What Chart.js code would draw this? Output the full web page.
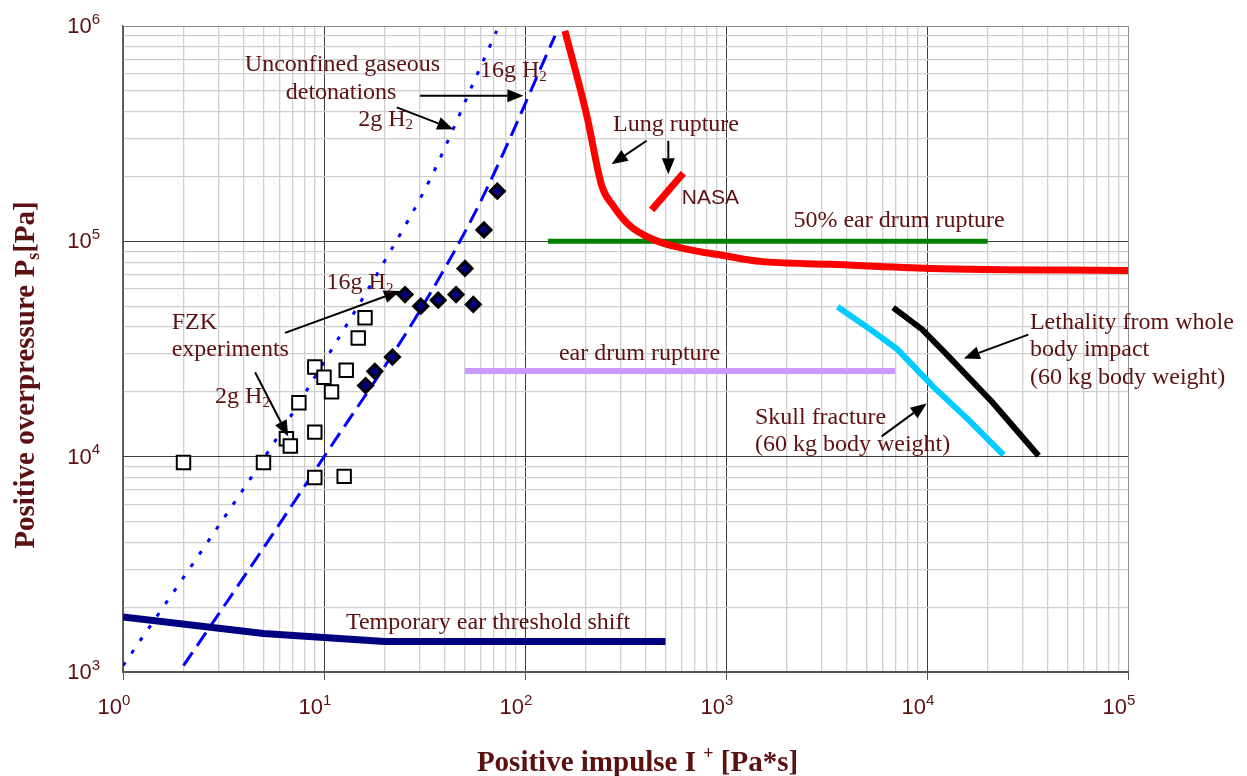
<!DOCTYPE html>
<html>
<head>
<meta charset="utf-8">
<title>Blast injury criteria</title>
<script src="https://cdn.jsdelivr.net/npm/chart.js@4.4.0/dist/chart.umd.min.js"></script>
<style>
    html, body { margin: 0; padding: 0; background: #fff; overflow: hidden; }
    canvas { display: block; }
</style>
</head>
<body>
<canvas id="chart" width="1247" height="776"></canvas>
<script>
// Valori: x = impuls pozitiv [Pa*s], y = suprapresiune [Pa]
// Etichete axe: [bază, exponent]
const xTickLabels = [['10', '0'], ['10', '1'], ['10', '2'], ['10', '3'], ['10', '4'], ['10', '5']];
const yTickLabels = [['10', '3'], ['10', '4'], ['10', '5'], ['10', '6']];

// FZK 2g H2 (pătrate goale)
const fzk2gX = [2.0, 5.0, 6.5, 6.8, 7.5, 9.0, 9.0, 9.0, 10.0, 10.9, 12.6, 12.9, 14.8, 16.0];
const fzk2gY = [9400, 9400, 12100, 11200, 17800, 13000, 8000, 26100, 23400, 20000, 8100, 25200, 35600, 44200];

// FZK 16g H2 (romburi)
const fzk16gX = [72.8, 62.5, 50.3, 25.3, 30.3, 37.0, 45.4, 55.3, 21.9, 17.9, 16.1];
const fzk16gY = [171000, 113000, 74800, 56600, 50000, 53300, 56600, 50900, 29000, 24900, 21400];

// detonații gazoase neconfinate
const det2gX = [1.0, 2.62, 5.5, 10, 20.5, 33.7, 56.4, 72.3];
const det2gY = [1070, 3980, 11200, 27500, 84000, 194000, 566000, 950000];
const det16gX = [2.0, 5.2, 10.3, 28.9, 59.7, 141];
const det16gY = [1070, 3980, 10400, 45000, 151000, 900000];

// criterii de vătămare
const lungX = [158, 203, 241, 275, 333, 435, 590, 1000, 1480, 3300, 10400, 100000];
const lungY = [950000, 383000, 181000, 146000, 118000, 102000, 93500, 85500, 80700, 78200, 74800, 73200];
const nasaX = [427, 613];
const nasaY = [140000, 207000];
const ear50X = [130, 20000];
const ear50Y = [100000, 100000];
const earX = [50.3, 6930];
const earY = [25000, 25000];
const skullX = [3590, 5370, 7130, 10700, 16000, 24000];
const skullY = [49700, 38300, 31500, 21200, 14900, 10200];
const lethalX = [6790, 9460, 12560, 14770, 21250, 35900];
const lethalY = [49200, 39000, 29800, 25400, 17800, 10100];
const tempShiftX = [1, 5, 20, 500];
const tempShiftY = [1800, 1510, 1385, 1385];

// Stiluri
const TEXT = '#5c1010';
const serif = '"Liberation Serif", "Times New Roman", serif';
const sans = '"Liberation Sans", Arial, sans-serif';

// Etichete (poziții în decade: lx = log10(x), ly = log10(y))
const notes = [
    { parts: [['Unconfined gaseous']], lx: 1.092, ly: 5.819, align: 'center' },
    { parts: [['detonations']], lx: 1.085, ly: 5.692, align: 'center' },
    { parts: [['2g H'], ['2', 'sub']], lx: 1.170, ly: 5.567, align: 'left' },
    { parts: [['16g H'], ['2', 'sub']], lx: 1.776, ly: 5.792, align: 'left' },
    { parts: [['Lung rupture']], lx: 2.438, ly: 5.540, align: 'left' },
    { parts: [['NASA']], lx: 2.780, ly: 5.199, align: 'left', font: sans, size: 21 },
    { parts: [['50% ear drum rupture']], lx: 3.861, ly: 5.098, align: 'center' },
    { parts: [['ear drum rupture']], lx: 2.570, ly: 4.479, align: 'center' },
    { parts: [['Temporary ear threshold shift']], lx: 1.109, ly: 3.229, align: 'left' },
    { parts: [['16g H'], ['2', 'sub']], lx: 1.013, ly: 4.808, align: 'left' },
    { parts: [['FZK']], lx: 0.242, ly: 4.622, align: 'left' },
    { parts: [['experiments']], lx: 0.242, ly: 4.498, align: 'left' },
    { parts: [['2g H'], ['2', 'sub']], lx: 0.458, ly: 4.280, align: 'left' },
    { parts: [['Skull fracture']], lx: 3.144, ly: 4.181, align: 'left' },
    { parts: [['(60 kg body weight)']], lx: 3.144, ly: 4.056, align: 'left' },
    { parts: [['Lethality from whole']], lx: 4.512, ly: 4.622, align: 'left' },
    { parts: [['body impact']], lx: 4.512, ly: 4.498, align: 'left' },
    { parts: [['(60 kg body weight)']], lx: 4.512, ly: 4.367, align: 'left' }
];

// Săgeți: [lx coadă, ly coadă, lx vârf, ly vârf]
const arrows = [
    [1.478, 5.676, 1.992, 5.676],
    [1.362, 5.622, 1.643, 5.521],
    [2.605, 5.467, 2.431, 5.358],
    [2.713, 5.467, 2.713, 5.312],
    [0.806, 4.575, 1.378, 4.769],
    [0.657, 4.392, 0.822, 4.094],
    [3.774, 4.094, 3.998, 4.247],
    [4.504, 4.567, 4.183, 4.456]
];

const xTitle = [['Positive impulse I '], ['+', 'sup'], [' [Pa*s]']];
const yTitle = [['Positive overpressure P'], ['s', 'sub'], ['[Pa]']];

// Funcții utilitare
const pts = (xs, ys) => xs.map((x, i) => ({ x, y: ys[i] }));

const isDecade = (v) => {
    const l = Math.log10(v);
    return Math.abs(l - Math.round(l)) < 1e-9;
};

const logTicks = (minExp, maxExp) => {
    const ticks = [];
    for (let e = minExp; e < maxExp; e++) {
        for (let m = 1; m < 10; m++) ticks.push({ value: m * Math.pow(10, e) });
    }
    ticks.push({ value: Math.pow(10, maxExp) });
    return ticks;
};

const drawParts = (ctx, parts, x, y, align, size, bold, family, supScale) => {
    const fonts = parts.map(p => {
        const s = p[1] ? Math.round(size * (supScale || 0.62)) : size;
        return `${bold ? 'bold ' : ''}${s}px ${family}`;
    });
    let total = 0;
    const widths = parts.map((p, i) => {
        ctx.font = fonts[i];
        const w = ctx.measureText(p[0]).width;
        total += w;
        return w;
    });
    let cx = x;
    if (align === 'center') cx = x - total / 2;
    if (align === 'right') cx = x - total;
    ctx.textAlign = 'left';
    ctx.textBaseline = 'middle';
    parts.forEach((p, i) => {
        ctx.font = fonts[i];
        const dy = p[1] === 'sub' ? size * 0.26 : p[1] === 'sup' ? -size * 0.34 : 0;
        ctx.fillText(p[0], cx, y + dy);
        cx += widths[i];
    });
};

// Plugin pentru etichetele axelor, adnotări și titluri
const annotate = {
    id: 'annotate',
    afterDraw(chart) {
        const { ctx, chartArea: a, scales: { x, y } } = chart;
        const px = (lx) => x.getPixelForValue(Math.pow(10, lx));
        const py = (ly) => y.getPixelForValue(Math.pow(10, ly));
        ctx.save();

        // etichete de axă (10 cu exponent)
        ctx.fillStyle = TEXT;
        xTickLabels.forEach((lab, i) => {
            drawParts(ctx, [[lab[0]], [lab[1], 'sup']], x.getPixelForValue(Math.pow(10, i)) - 9, a.bottom + 36, 'center', 22, false, sans, 0.66);
        });
        yTickLabels.forEach((lab, i) => {
            drawParts(ctx, [[lab[0]], [lab[1], 'sup']], a.left - 23, y.getPixelForValue(Math.pow(10, i + 3)) + 1, 'right', 22, false, sans, 0.66);
        });

        ctx.strokeStyle = '#000';
        ctx.fillStyle = '#000';
        ctx.lineWidth = 2;
        arrows.forEach(([x1, y1, x2, y2]) => {
            const ax = px(x1), ay = py(y1), bx = px(x2), by = py(y2);
            const ang = Math.atan2(by - ay, bx - ax);
            const len = 16, half = 6.5;
            const cx = bx - len * Math.cos(ang), cy = by - len * Math.sin(ang);
            ctx.beginPath();
            ctx.moveTo(ax, ay);
            ctx.lineTo(cx, cy);
            ctx.stroke();
            ctx.beginPath();
            ctx.moveTo(bx, by);
            ctx.lineTo(cx + half * Math.sin(ang), cy - half * Math.cos(ang));
            ctx.lineTo(cx - half * Math.sin(ang), cy + half * Math.cos(ang));
            ctx.closePath();
            ctx.fill();
        });

        ctx.fillStyle = TEXT;
        notes.forEach(n => {
            drawParts(ctx, n.parts, px(n.lx), py(n.ly), n.align, n.size || 24, false, n.font || serif);
        });

        drawParts(ctx, xTitle, (a.left + a.right) / 2 + 12, a.bottom + 92, 'center', 29, true, serif);
        ctx.translate(a.left - 96, (a.top + a.bottom) / 2 + 26);
        ctx.rotate(-Math.PI / 2);
        drawParts(ctx, yTitle, 0, 0, 'center', 29, true, serif);
        ctx.restore();
    }
};

const gridColor = (edge) => (c) => {
    const v = c.tick ? c.tick.value : 0;
    if (v === edge) return '#8c8c8c';
    return isDecade(v) ? '#3c3c3c' : '#cfcfcf';
};
const gridWidth = (c) => (c.tick && isDecade(c.tick.value) ? 1 : 1.3);

const lineSet = (xs, ys, color, width, extra) => Object.assign({
    data: pts(xs, ys),
    showLine: true,
    borderColor: color,
    borderWidth: width,
    pointRadius: 0,
    tension: 0
}, extra || {});

const fixBox = (size, key) => (s) => {
    s[key] = size;
    s.paddingTop = 0;
    s.paddingBottom = 0;
    s.paddingLeft = 0;
    s.paddingRight = 0;
};

document.addEventListener('DOMContentLoaded', () => {
    const ctx = document.getElementById('chart').getContext('2d');
    new Chart(ctx, {
        type: 'scatter',
        data: {
            datasets: [
                {
                    data: pts(fzk2gX, fzk2gY),
                    pointStyle: 'rect',
                    pointRadius: 9.5,
                    pointBackgroundColor: '#fff',
                    pointBorderColor: '#000',
                    pointBorderWidth: 2,
                    showLine: false
                },
                {
                    data: pts(fzk16gX, fzk16gY),
                    pointStyle: 'rectRot',
                    pointRadius: 7,
                    pointBackgroundColor: '#000080',
                    pointBorderColor: '#000',
                    pointBorderWidth: 3,
                    showLine: false
                },
                lineSet(lungX, lungY, '#ff0000', 7, { cubicInterpolationMode: 'monotone' }),
                lineSet(nasaX, nasaY, '#ff0000', 7),
                lineSet(ear50X, ear50Y, '#008000', 5),
                lineSet(earX, earY, '#cc99ff', 6),
                lineSet(skullX, skullY, '#00ccff', 6),
                lineSet(lethalX, lethalY, '#000000', 6),
                lineSet(tempShiftX, tempShiftY, '#000080', 7),
                lineSet(det2gX, det2gY, '#0000ff', 3, { borderDash: [4, 11], cubicInterpolationMode: 'monotone' }),
                lineSet(det16gX, det16gY, '#0000ff', 3, { borderDash: [16, 8], cubicInterpolationMode: 'monotone' })
            ]
        },
        options: {
            responsive: false,
            devicePixelRatio: 1,
            animation: false,
            events: [],
            layout: { padding: { left: 0, top: 26, right: 119, bottom: 0 } },
            plugins: {
                legend: { display: false },
                tooltip: { enabled: false }
            },
            scales: {
                x: {
                    type: 'logarithmic',
                    min: 1,
                    max: 1e5,
                    afterBuildTicks: (s) => { s.ticks = logTicks(0, 5); },
                    afterFit: fixBox(104, 'height'),
                    ticks: { display: false, autoSkip: false, maxRotation: 0 },
                    grid: {
                        color: gridColor(1e5),
                        lineWidth: gridWidth,
                        drawTicks: true,
                        tickLength: 8,
                        tickColor: (c) => (c.tick && isDecade(c.tick.value) ? '#555' : 'rgba(0,0,0,0)')
                    },
                    border: { color: '#555', width: 2 }
                },
                y: {
                    type: 'logarithmic',
                    min: 1e3,
                    max: 1e6,
                    afterBuildTicks: (s) => { s.ticks = logTicks(3, 6); },
                    afterFit: fixBox(123, 'width'),
                    ticks: { display: false, autoSkip: false },
                    grid: {
                        color: gridColor(1e6),
                        lineWidth: gridWidth,
                        drawTicks: false
                    },
                    border: { color: '#666', width: 1.5 }
                }
            }
        },
        plugins: [annotate]
    });
});
</script>
</body>
</html>
